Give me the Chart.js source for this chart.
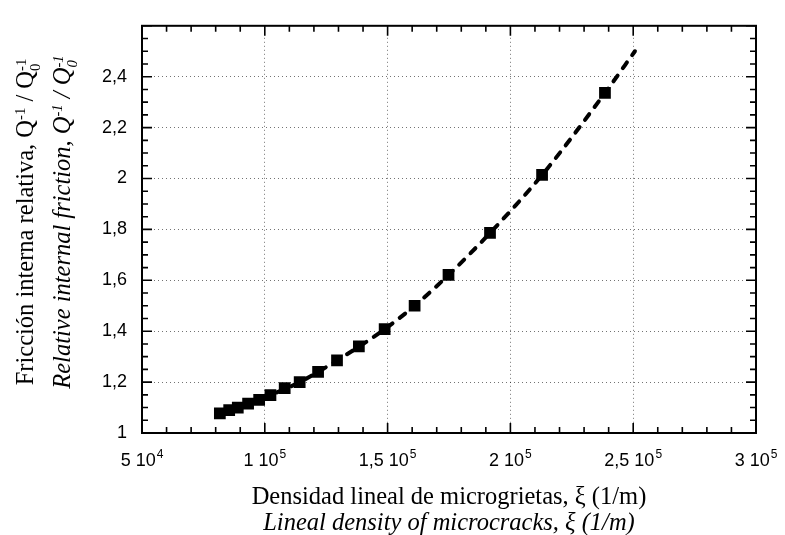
<!DOCTYPE html>
<html>
<head>
<meta charset="utf-8">
<script src="https://cdn.jsdelivr.net/npm/chart.js@4/dist/chart.umd.min.js"></script>
<style>
  html, body { margin:0; padding:0; background:#fff; }
  #wrap { position:relative; width:785px; height:535px; overflow:hidden; }
  canvas { position:absolute; left:0; top:0; }
  .title { position:absolute; font-family:"Liberation Serif", "Times New Roman", serif; font-size:24.5px; color:#000; text-align:center; white-space:nowrap; }
  .it { font-style:italic; }
  sup.s { font-size:0.6em; vertical-align:0.55em; line-height:0; }
  .ss { display:inline-block; font-size:0.6em; line-height:0.95; vertical-align:-0.45em; text-align:left; }
  .ss span { display:block; }
  #ytitle { left:-157.5px; top:185px; width:400px; height:74px; line-height:37px; transform:rotate(-90deg); transform-origin:50% 50%; }
  #xtitle { left:149px; top:483px; width:600px; line-height:26px; }
</style>
</head>
<body>
<div id="wrap">
  <canvas id="c" width="785" height="535"></canvas>
  <div id="ytitle" class="title">
    <div>Fricción interna relativa, Q<sup class="s">-1</sup> / Q<span class="ss"><span>-1</span><span>0</span></span></div>
    <div class="it">Relative internal friction, Q<sup class="s">-1</sup> / Q<span class="ss"><span>-1</span><span>0</span></span></div>
  </div>
  <div id="xtitle" class="title">
    <div>Densidad lineal de microgrietas, ξ (1/m)</div>
    <div class="it">Lineal density of microcracks, ξ (1/m)</div>
  </div>
</div>
<script>
// ---- data ----
const crackDensity = [81700, 85500, 89000, 93200, 97700, 102300, 108100, 114200, 121700, 129400, 138300, 148800, 161000, 174800, 191700, 212900, 238500];
const relFriction  = [1.077, 1.090, 1.100, 1.115, 1.130, 1.149, 1.176, 1.200, 1.240, 1.285, 1.340, 1.408, 1.500, 1.621, 1.786, 2.014, 2.336];
const fitX = [80500, 89000, 102300, 114200, 129400, 148800, 161000, 174800, 191700, 212900, 238500, 250700];
const fitY = [1.072, 1.100, 1.149, 1.200, 1.285, 1.408, 1.500, 1.621, 1.786, 2.014, 2.336, 2.500];
const xTickValues = [50000, 100000, 150000, 200000, 250000, 300000];
const xTickMantissa = ['5', '1', '1,5', '2', '2,5', '3'];
const xTickExponent = ['4', '5', '5', '5', '5', '5'];
const yTickLabels = ['1', '1,2', '1,4', '1,6', '1,8', '2', '2,2', '2,4', ''];

const pts = crackDensity.map((x, i) => ({ x, y: relFriction[i] }));
const fitPts = fitX.map((x, i) => ({ x, y: fitY[i] }));

const SANS = '"Liberation Sans", Arial, sans-serif';

const frameTicks = {
  id: 'frameTicks',
  afterDraw(chart) {
    const { ctx, chartArea: a, scales: { x, y } } = chart;
    ctx.save();
    ctx.strokeStyle = '#000';
    ctx.lineWidth = 1.6;
    ctx.beginPath();
    for (let i = 0; i <= 25; i++) {
      const v = 50000 + i * 10000;
      const px = x.getPixelForValue(v);
      const len = (i % 5 === 0) ? 10 : 6;
      ctx.moveTo(px, a.bottom); ctx.lineTo(px, a.bottom - len);
      ctx.moveTo(px, a.top); ctx.lineTo(px, a.top + len);
    }
    for (let i = 0; i <= 32; i++) {
      const v = 1 + i * 0.05;
      const py = y.getPixelForValue(v);
      const len = (i % 4 === 0) ? 10 : 6;
      ctx.moveTo(a.left, py); ctx.lineTo(a.left + len, py);
      ctx.moveTo(a.right, py); ctx.lineTo(a.right - len, py);
    }
    ctx.stroke();
    ctx.lineWidth = 2;
    ctx.strokeRect(a.left, a.top, a.right - a.left, a.bottom - a.top);

    // x tick labels: "m 10^e"
    ctx.fillStyle = '#000';
    ctx.textBaseline = 'alphabetic';
    ctx.textAlign = 'left';
    const base = a.bottom + 33;
    xTickValues.forEach((v, i) => {
      const main = xTickMantissa[i] + ' 10';
      ctx.font = '18px ' + SANS;
      const w1 = ctx.measureText(main).width;
      ctx.font = '12px ' + SANS;
      const w2 = ctx.measureText(xTickExponent[i]).width;
      const px = x.getPixelForValue(v);
      const left = px - (w1 + w2 + 1) / 2;
      ctx.font = '18px ' + SANS;
      ctx.fillText(main, left, base);
      ctx.font = '12px ' + SANS;
      ctx.fillText(xTickExponent[i], left + w1 + 1, base - 8);
    });
    ctx.restore();
  }
};

new Chart(document.getElementById('c'), {
  type: 'scatter',
  data: {
    datasets: [
      {
        data: fitPts,
        showLine: true,
        borderColor: '#000',
        borderWidth: 4,
        borderDash: [7, 9],
        borderCapStyle: 'round',
        cubicInterpolationMode: 'monotone',
        pointRadius: 0,
        fill: false
      },
      {
        data: pts,
        showLine: false,
        pointStyle: 'rect',
        pointRadius: 8.3,
        pointBackgroundColor: '#000',
        pointBorderColor: '#000',
        pointBorderWidth: 0
      }
    ]
  },
  options: {
    responsive: false,
    devicePixelRatio: 1,
    animation: false,
    layout: { padding: { top: 13, right: 29, left: 0, bottom: 0 } },
    plugins: { legend: { display: false }, tooltip: { enabled: false } },
    scales: {
      x: {
        type: 'linear', min: 50000, max: 300000,
        afterFit(s) { s.height = 102; },
        border: { display: false, dash: [1, 3] },
        grid: { color: 'rgba(0,0,0,0.55)', lineWidth: 1, drawTicks: false },
        ticks: { stepSize: 50000, maxRotation: 0, autoSkip: false, display: false }
      },
      y: {
        type: 'linear', min: 1, max: 2.6,
        afterFit(s) { s.width = 142; },
        border: { display: false, dash: [1, 3] },
        grid: { color: 'rgba(0,0,0,0.55)', lineWidth: 1, drawTicks: false },
        ticks: {
          stepSize: 0.2, padding: 15, autoSkip: false,
          color: '#000', font: { family: SANS, size: 18 },
          callback: (v, i) => yTickLabels[i]
        }
      }
    }
  },
  plugins: [frameTicks]
});
</script>
</body>
</html>
